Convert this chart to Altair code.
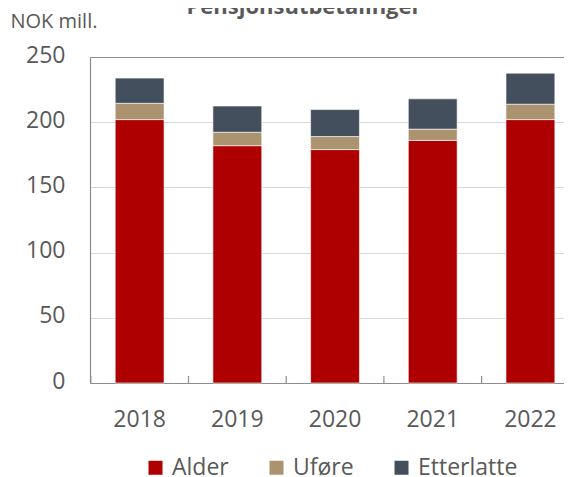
import altair as alt
import pandas as pd

title_text = "Pensjonsutbetalinger"
unit_label = "NOK mill."
years = ["2018", "2019", "2020", "2021", "2022"]
series = ["Alder", "Uføre", "Etterlatte"]
alder = [202, 182, 179, 186, 202]
ufore = [12.5, 10.3, 10.0, 8.7, 11.8]
etterlatte = [19.3, 20.1, 20.7, 23.2, 23.8]
colors = ["#AE0000", "#AC9370", "#434F5C"]
y_ticks = [0, 50, 100, 150, 200, 250]

rows = []
for i, y in enumerate(years):
    for k, (name, vals) in enumerate(zip(series, [alder, ufore, etterlatte])):
        rows.append({"year": y, "series": name, "value": vals[i], "ord": k})
df = pd.DataFrame(rows)

FONT = "Open Sans"
GREY = "#595959"

x_scale = alt.Scale(paddingInner=0.5, paddingOuter=0.1758, align=0.7336, round=False)

bars = alt.Chart(df).mark_bar(stroke="white", strokeWidth=0.6).encode(
    x=alt.X("year:N", scale=x_scale, sort=years,
            axis=alt.Axis(title=None, labelAngle=0, labelFont=FONT, labelFontSize=23,
                          labelColor=GREY, labelPadding=25, ticks=False,
                          domainColor="#8c8c8c", domainWidth=1.2)),
    y=alt.Y("value:Q", stack="zero",
            scale=alt.Scale(domain=[0, 250], nice=False),
            axis=alt.Axis(values=y_ticks, title=unit_label, titleAngle=0, titleX=-80, titleY=-30,
                          titleAlign="left", titleBaseline="alphabetic", titleFont=FONT,
                          titleFontSize=20, titleFontWeight="normal", titleColor=GREY,
                          labelFont=FONT, labelFontSize=23, labelColor=GREY, labelPadding=25,
                          labelOffset=-2,
                          ticks=False, domainColor="#8c8c8c", domainWidth=1.2,
                          gridColor=alt.condition("datum.value == 250", alt.value("#8c8c8c"), alt.value("#d9d9d9")),
                          gridWidth=alt.condition("datum.value == 250", alt.value(1.2), alt.value(1)))),
    color=alt.Color("series:N", scale=alt.Scale(domain=series, range=colors),
                    legend=alt.Legend(title=None, orient="none", direction="horizontal",
                                      legendX=54, legendY=399, symbolType="square",
                                      symbolSize=196, symbolStrokeWidth=0, labelFont=FONT,
                                      labelFontSize=23, labelColor=GREY, labelOffset=5,
                                      columnPadding=36)),
    order=alt.Order("ord:Q", sort="ascending"),
)

tick_df = pd.DataFrame({"year": years})
ticks = alt.Chart(tick_df).mark_rule(color="#8c8c8c", strokeWidth=1.2).encode(
    x=alt.X("year:N", sort=years, scale=x_scale),
    xOffset=alt.value(-24.4),
    y=alt.value(326),
    y2=alt.value(319),
)

title = alt.Chart(pd.DataFrame({"t": [title_text]})).mark_text(
    font=FONT, fontSize=22, fontWeight="bold", color=GREY, align="center", baseline="alphabetic"
).encode(text="t:N", x=alt.value(214), y=alt.value(-43))

chart = alt.layer(bars, ticks, title).properties(
    width=474, height=326,
    autosize=alt.AutoSizeParams(type="none"),
    padding={"left": 82, "top": 49, "right": 0, "bottom": 96},
).configure_view(stroke=None)

chart.save("out.html", embed_options={"renderer": "svg", "actions": False})
